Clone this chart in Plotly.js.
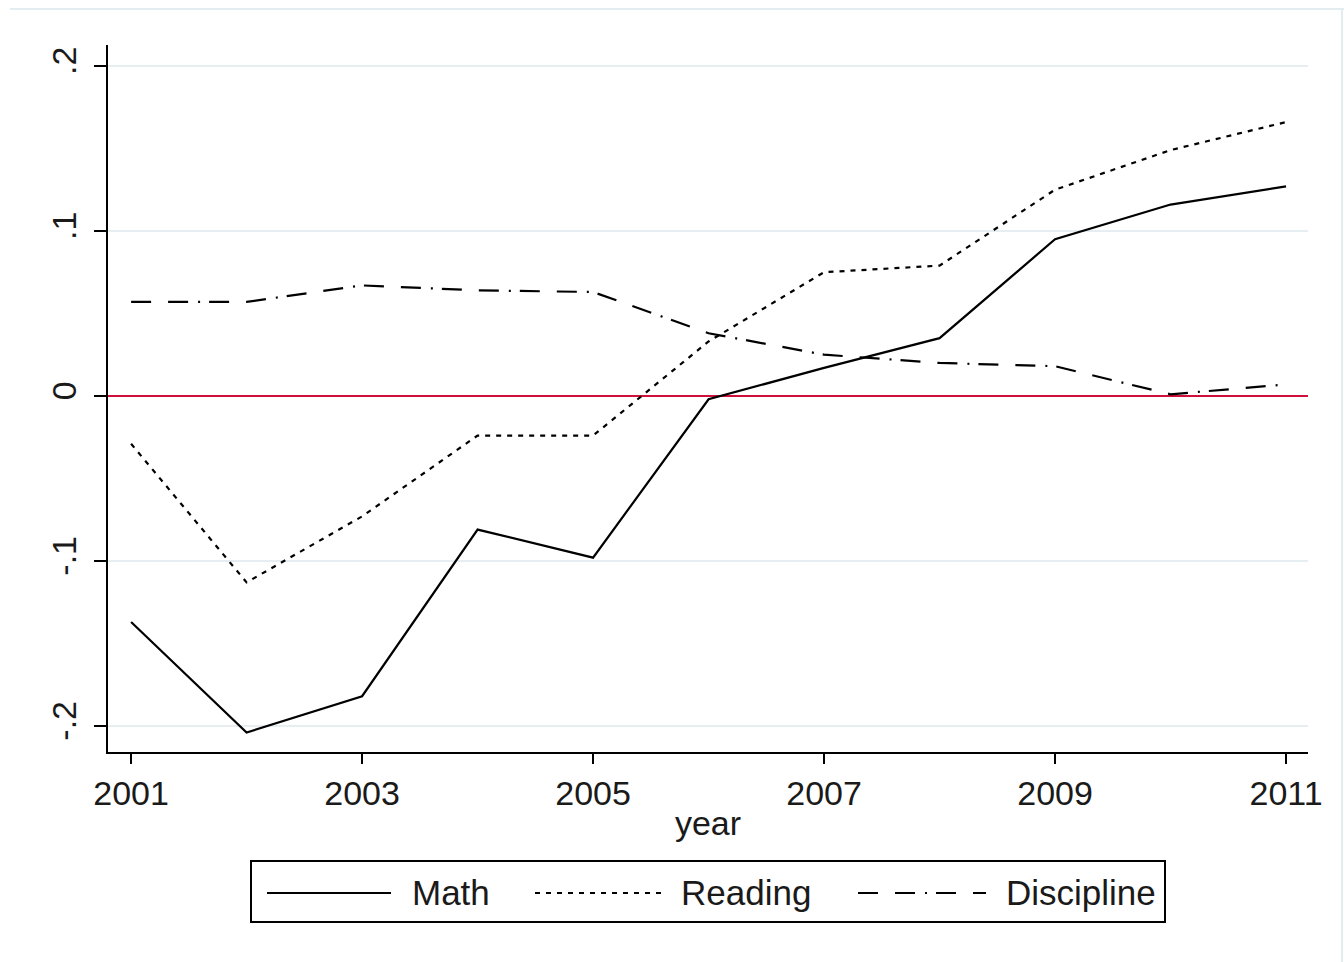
<!DOCTYPE html>
<html>
<head>
<meta charset="utf-8">
<script src="https://cdn.plot.ly/plotly-3.0.1.min.js"></script>
<style>
  html, body { margin: 0; padding: 0; background: #ffffff; }
  #chart { width: 1344px; height: 962px; }
</style>
</head>
<body>
<div id="chart"></div>
<script>
const years = [2001, 2002, 2003, 2004, 2005, 2006, 2007, 2008, 2009, 2010, 2011];
const math = [-0.137, -0.204, -0.182, -0.081, -0.098, -0.002, 0.017, 0.035, 0.095, 0.116, 0.127];
const reading = [-0.029, -0.113, -0.073, -0.024, -0.024, 0.033, 0.075, 0.079, 0.125, 0.149, 0.166];
const discipline = [0.057, 0.057, 0.067, 0.064, 0.063, 0.038, 0.025, 0.020, 0.018, 0.001, 0.007];
const seriesNames = ["Math", "Reading", "Discipline"];
const xTicks = [2001, 2003, 2005, 2007, 2009, 2011];
const yTicks = [-0.2, -0.1, 0, 0.1, 0.2];
const yTickLabels = ["-.2", "-.1", "0", ".1", ".2"];

const dashes = ["solid", "5px,6px", "20px,17px,20px,10px,2px,9px"];
const font = "Liberation Sans, Arial, sans-serif";
const FS = 34;
const LFS = 35;

const traces = [math, reading, discipline].map((vals, i) => ({
  x: years, y: vals, name: seriesNames[i], type: "scatter", mode: "lines",
  line: {color: "#000000", width: 2.2, dash: dashes[i]},
  showlegend: false
}));

// manual legend (Stata-style, long samples)
const L = 108, W = 1200, T = 45, H = 707;
const px = v => (v - L) / W;
const py = v => (T + H - v) / H;
const shapes = [
  {type: "rect", xref: "paper", yref: "paper", x0: px(251), x1: px(1165), y0: py(861), y1: py(922),
   line: {color: "#000000", width: 2}, fillcolor: "rgba(0,0,0,0)"},
  {type: "line", xref: "paper", yref: "paper", x0: px(267), x1: px(391), y0: py(893), y1: py(893),
   line: {color: "#000", width: 2, dash: dashes[0]}},
  {type: "line", xref: "paper", yref: "paper", x0: px(535), x1: px(661), y0: py(893), y1: py(893),
   line: {color: "#000", width: 2, dash: dashes[1]}},
  {type: "line", xref: "paper", yref: "paper", x0: px(858), x1: px(986), y0: py(893), y1: py(893),
   line: {color: "#000", width: 2, dash: "20px,17px,20px,10px,2px,9px"}},
  // faint outer frame
  {type: "line", xref: "paper", yref: "paper", x0: px(10), x1: px(1344), y0: py(9), y1: py(9),
   line: {color: "#e3ecef", width: 2}},
  {type: "line", xref: "paper", yref: "paper", x0: px(1342), x1: px(1342), y0: py(9), y1: py(962),
   line: {color: "#e3ecef", width: 2}}
];
const legX = [410, 679, 1004];
const annotations = seriesNames.map((n, i) => ({
  text: n, xref: "paper", yref: "paper", x: px(legX[i]), y: py(892),
  xanchor: "left", yanchor: "middle", showarrow: false,
  font: {family: font, size: LFS, color: "#1a1a1a"}
}));

const layout = {
  width: 1344, height: 962,
  margin: {l: L, r: 1344 - L - W, t: T, b: 962 - T - H},
  paper_bgcolor: "#ffffff", plot_bgcolor: "#ffffff",
  showlegend: false,
  xaxis: {
    range: [2000.8, 2011.19],
    tickvals: xTicks, ticktext: xTicks.map(String),
    ticks: "outside", ticklen: 10, tickwidth: 2, tickcolor: "#000",
    showline: true, linecolor: "#000", linewidth: 2,
    showgrid: false, zeroline: false,
    tickfont: {family: font, size: FS, color: "#1a1a1a"},
    title: {text: "year", font: {family: font, size: FS, color: "#1a1a1a"}, standoff: 0}
  },
  yaxis: {
    range: [-0.2158, 0.2127],
    tickvals: yTicks, ticktext: yTickLabels,
    ticks: "outside", ticklen: 12, tickwidth: 2, tickcolor: "#000",
    tickangle: -90,
    showline: true, linecolor: "#000", linewidth: 2,
    showgrid: true, gridcolor: "#e6eef1", gridwidth: 2,
    zeroline: true, zerolinecolor: "#d0103a", zerolinewidth: 2,
    tickfont: {family: font, size: FS, color: "#1a1a1a"},
    ticklabelstandoff: 4
  },
  shapes: shapes,
  annotations: annotations
};

Plotly.newPlot("chart", traces, layout, {displayModeBar: false, staticPlot: true});
</script>
</body>
</html>
